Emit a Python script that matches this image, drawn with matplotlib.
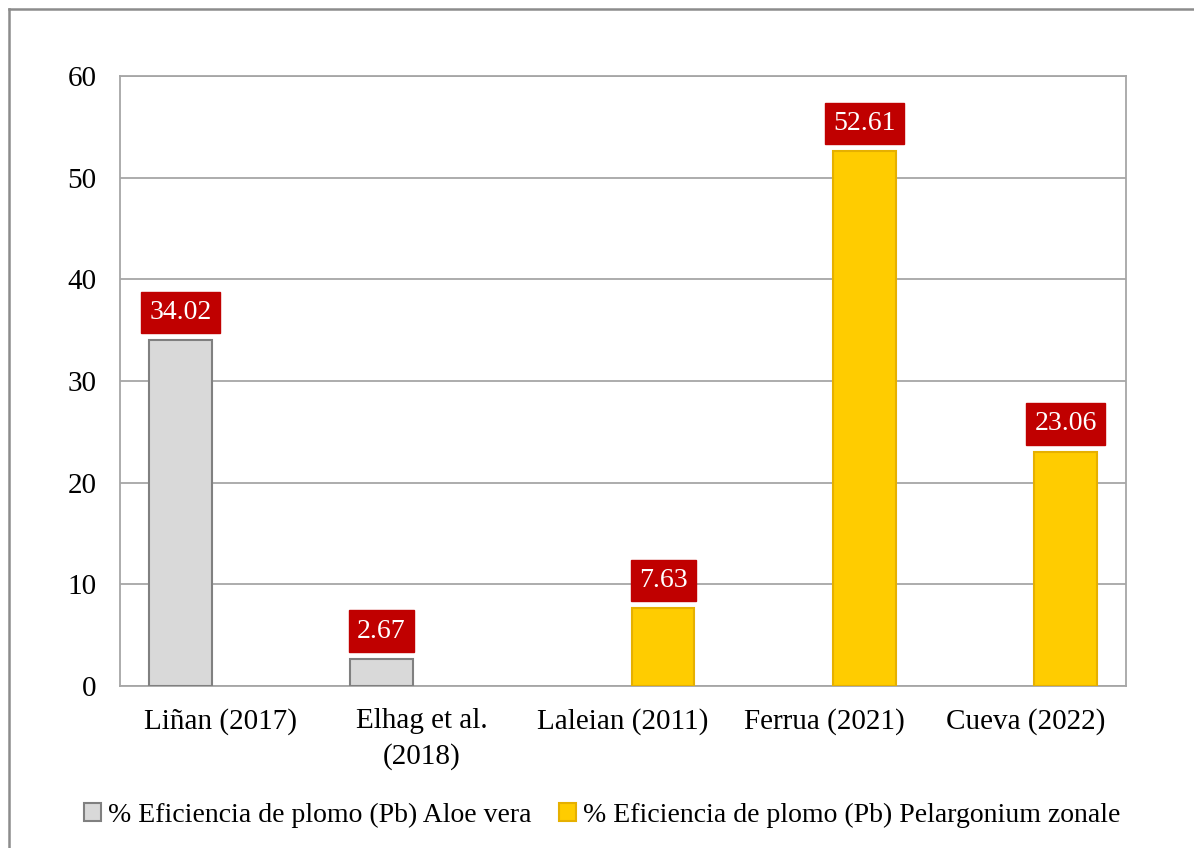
import matplotlib
matplotlib.use("Agg")
import matplotlib.pyplot as plt
import numpy as np
from matplotlib.lines import Line2D

categories = ["Liñan (2017)", "Elhag et al.\n(2018)", "Laleian (2011)", "Ferrua (2021)", "Cueva (2022)"]
aloe = [34.02, 2.67, None, None, None]
pelargonium = [None, None, 7.63, 52.61, 23.06]
series_names = ["% Eficiencia de plomo (Pb) Aloe vera", "% Eficiencia de plomo (Pb) Pelargonium zonale"]
yticks = [0, 10, 20, 30, 40, 50, 60]

plt.rcParams['font.family'] = ['Liberation Serif', 'DejaVu Serif']

fig = plt.figure(figsize=(11.94, 8.48), dpi=100)
bx, by = 8.5/1194, 1 - 8.5/848
fig.lines.append(Line2D([bx, bx], [0, by], transform=fig.transFigure, color='#8c8c8c', linewidth=1.8))
fig.lines.append(Line2D([bx, 1], [by, by], transform=fig.transFigure, color='#8c8c8c', linewidth=1.8))
ax = fig.add_axes([120/1194, (848-686)/848, 1006/1194, 610/848])

x = np.arange(len(categories))
w = 0.31
off = 0.2
colors = ['#D9D9D9', '#FFCC00']
edges = ['#808080', '#E6B000']

for vals, o, c, e, name in [(aloe, -off, colors[0], edges[0], series_names[0]),
                             (pelargonium, off, colors[1], edges[1], series_names[1])]:
    xs = [xi + o for xi, v in zip(x, vals) if v is not None]
    vs = [v for v in vals if v is not None]
    bars = ax.bar(xs, vs, width=w, color=c, edgecolor=e, linewidth=1.5, label=name, zorder=3)
    for b, v in zip(bars, vs):
        ax.annotate(f"{v:.2f}", (b.get_x() + b.get_width()/2, v), xytext=(0, 11),
                    textcoords='offset points', ha='center', va='bottom', color='white', fontsize=20,
                    bbox=dict(boxstyle='square,pad=0.3', fc='#C00000', ec='#C00000'), zorder=4)

ax.set_xlim(-0.5, len(categories) - 0.5)
ax.set_ylim(0, 60)
ax.set_yticks(yticks)
ax.set_xticks(x)
ax.set_xticklabels(categories, linespacing=1.45)
ax.tick_params(axis='both', length=0, labelsize=21, colors='black')
ax.tick_params(axis='y', pad=17)
ax.tick_params(axis='x', pad=16)
ax.yaxis.grid(True, color='#A6A6A6', linewidth=1.3, zorder=0)
ax.set_axisbelow(True)
for s in ax.spines.values():
    s.set_color('#A6A6A6')
    s.set_linewidth(1.3)

handles, labels = ax.get_legend_handles_labels()
fig.legend(handles, labels, loc='center', bbox_to_anchor=(602/1194, 1 - 815/848), ncol=2, frameon=False,
           fontsize=20, handlelength=0.6, handleheight=0.6, handletextpad=0.25, columnspacing=1.0)

fig.savefig("out.png", dpi=100)
